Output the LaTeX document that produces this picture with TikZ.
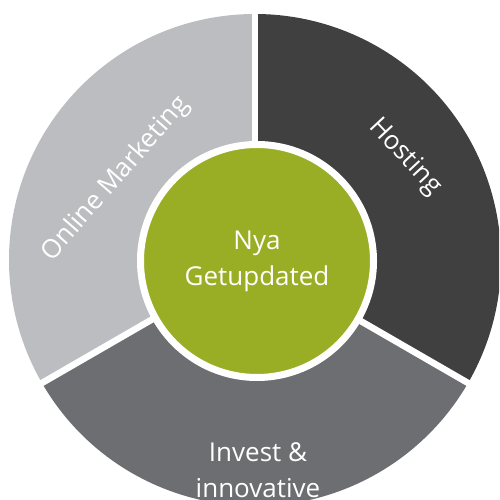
\documentclass[tikz,border=0pt]{standalone}
\usepackage{fontspec}
\setmainfont{Open Sans}
\usepackage{tikz}
\definecolor{sliceLight}{HTML}{BCBDC0}
\definecolor{sliceDark}{HTML}{404041}
\definecolor{sliceMid}{HTML}{6D6E71}
\definecolor{hubGreen}{HTML}{9AAE25}

\begin{document}
\begin{tikzpicture}[x=1pt, y=1pt, every node/.style={font=\fontsize{26}{36}\selectfont, text=white, align=center}]
      \useasboundingbox (0,0) rectangle (499,500);
      \clip (0,0) rectangle (499,500);
      \coordinate (pie) at (255,240);

      % Slices
      \fill[sliceDark] (pie) -- ++(-30:246pt) arc[start angle=-30, end angle=90, radius=246pt] -- cycle;
      \fill[sliceLight] (pie) -- ++(90:246pt) arc[start angle=90, end angle=210, radius=246pt] -- cycle;
      \fill[sliceMid] (pie) -- ++(210:246pt) arc[start angle=210, end angle=330, radius=246pt] -- cycle;
      \foreach \a in {90,210,330} {
            \draw[white, line width=6.5pt] (pie) -- ++(\a:252pt);
      }

      % Hub
      \node[circle, fill=hubGreen, draw=white, line width=7pt, minimum size=233pt, inner sep=0pt] (hub) at (257,239) {Nya\\Getupdated};

      % Slice labels
      \node[rotate=-47] (hostLabel) at (405,343) {Hosting};
      \node[rotate=49] (marketLabel) at (116,321) {Online Marketing};
      \node (investLabel) at (258,30) {Invest \&\\innovative};
\end{tikzpicture}
\end{document}
